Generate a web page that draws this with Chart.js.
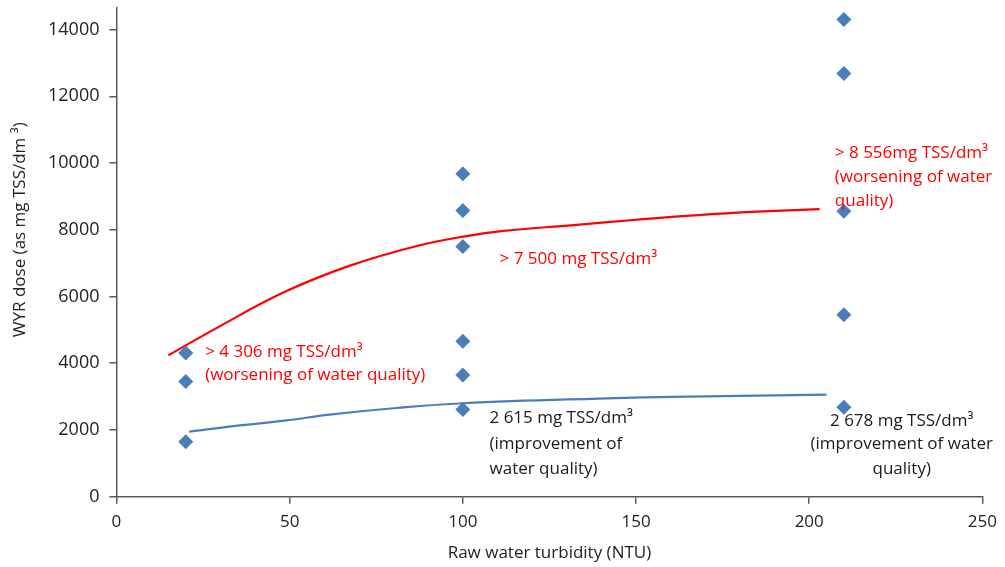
<!DOCTYPE html>
<html>
<head>
<meta charset="utf-8">
<script src="https://cdn.jsdelivr.net/npm/chart.js@4"></script>
<style>
  html, body { margin: 0; padding: 0; background: #fff; }
  #wrap { width: 1005px; height: 567px; }
</style>
</head>
<body>
<div id="wrap"><canvas id="myChart" width="1005" height="567"></canvas></div>
<script>
// measured doses (scatter)
const turbidity = [20, 20, 20, 100, 100, 100, 100, 100, 100, 210, 210, 210, 210, 210];
const doses = [4306, 3450, 1650, 9680, 8580, 7500, 4660, 3650, 2615, 14300, 12680, 8556, 5450, 2678];

// trend curves
const redX = [15, 29, 48, 67, 87, 101, 111, 132, 150, 168, 185, 203];
const redY = [4240, 5060, 6110, 6910, 7520, 7810, 7960, 8140, 8300, 8440, 8540, 8620];
const blueX = [21, 35, 48.6, 61.5, 80, 100, 139, 165, 205];
const blueY = [1950, 2130, 2280, 2460, 2650, 2800, 2940, 3000, 3060];

const yTicks = [0, 2000, 4000, 6000, 8000, 10000, 12000, 14000];
const yTitle = 'WYR dose (as mg TSS/dm ³)';

// annotations: [x, y, text, colour, align]
const notes = [
  [25.6, 4324, '> 4 306 mg TSS/dm³', '#ff0000', 'left'],
  [25.6, 3634, '(worsening of water quality)', '#ff0000', 'left'],
  [110.6, 7117, '> 7 500 mg TSS/dm³', '#ff0000', 'left'],
  [207.4, 10300, '> 8 556mg TSS/dm³', '#ff0000', 'left'],
  [207.4, 9590, '(worsening of water', '#ff0000', 'left'],
  [207.4, 8860, 'quality)', '#ff0000', 'left'],
  [107.7, 2342, '2 615 mg TSS/dm³', '#1a1a1a', 'left'],
  [107.7, 1570, '(improvement of', '#1a1a1a', 'left'],
  [107.7, 820, 'water quality)', '#1a1a1a', 'left'],
  [226.7, 2250, '2 678 mg TSS/dm³', '#1a1a1a', 'center'],
  [226.7, 1570, '(improvement of water', '#1a1a1a', 'center'],
  [226.7, 820, 'quality)', '#1a1a1a', 'center']
];

const FONT = '"Open Sans", Lato, sans-serif';

const notesPlugin = {
  id: 'notes',
  afterDatasetsDraw(chart) {
    const ctx = chart.ctx;
    const xs = chart.scales.x, ys = chart.scales.y;
    ctx.save();
    ctx.font = '17px ' + FONT;
    ctx.textBaseline = 'middle';
    notes.forEach(([x, y, text, color, align]) => {
      ctx.fillStyle = color;
      ctx.textAlign = align;
      ctx.fillText(text, xs.getPixelForValue(x), ys.getPixelForValue(y));
    });
    // y axis title, sits a bit above the middle like in the original
    ctx.fillStyle = '#222';
    ctx.textAlign = 'center';
    ctx.translate(20, ys.getPixelForValue(8000));
    ctx.rotate(-Math.PI / 2);
    ctx.fillText(yTitle, 0, 0);
    ctx.restore();
  }
};

const ctx = document.getElementById('myChart').getContext('2d');
new Chart(ctx, {
  type: 'scatter',
  data: {
    datasets: [
      {
        label: 'WYR dose',
        data: turbidity.map((x, i) => ({ x: x, y: doses[i] })),
        pointStyle: 'rectRot',
        pointRadius: 7.5,
        pointHoverRadius: 7.5,
        backgroundColor: '#4a7ebb',
        borderColor: '#4a7ebb',
        borderWidth: 0
      },
      {
        label: 'worsening',
        data: redX.map((x, i) => ({ x: x, y: redY[i] })),
        showLine: true,
        pointRadius: 0,
        borderColor: '#ff0000',
        borderWidth: 2.2,
        tension: 0.4
      },
      {
        label: 'improvement',
        data: blueX.map((x, i) => ({ x: x, y: blueY[i] })),
        showLine: true,
        pointRadius: 0,
        borderColor: '#4a7ebb',
        borderWidth: 2.2,
        tension: 0.4
      }
    ]
  },
  options: {
    responsive: false,
    animation: false,
    layout: { padding: { left: 38, right: 21, top: 7, bottom: 4 } },
    plugins: {
      legend: { display: false },
      tooltip: { enabled: false }
    },
    scales: {
      x: {
        type: 'linear',
        min: 0,
        max: 250,
        ticks: { stepSize: 50, color: '#222', font: { family: FONT, size: 17 }, padding: 8, callback: v => v },
        grid: { drawOnChartArea: false, drawTicks: true, tickLength: 7, color: '#5a5a5a', lineWidth: 1.5 },
        border: { color: '#5a5a5a', width: 1.5 },
        title: { display: true, text: 'Raw water turbidity (NTU)', color: '#222', font: { family: FONT, size: 17 }, padding: { top: 2.5, bottom: 0 } }
      },
      y: {
        min: 0,
        max: 14660,
        afterBuildTicks(scale) {
          scale.ticks = yTicks.map(v => ({ value: v }));
        },
        afterFit(scale) {
          scale.paddingTop = 0;
        },
        ticks: { color: '#222', font: { family: FONT, size: 18 }, padding: 10, callback: v => v },
        grid: { drawOnChartArea: false, drawTicks: true, tickLength: 7, color: '#5a5a5a', lineWidth: 1.5 },
        border: { color: '#5a5a5a', width: 1.5 }
      }
    }
  },
  plugins: [notesPlugin]
});
</script>
</body>
</html>
